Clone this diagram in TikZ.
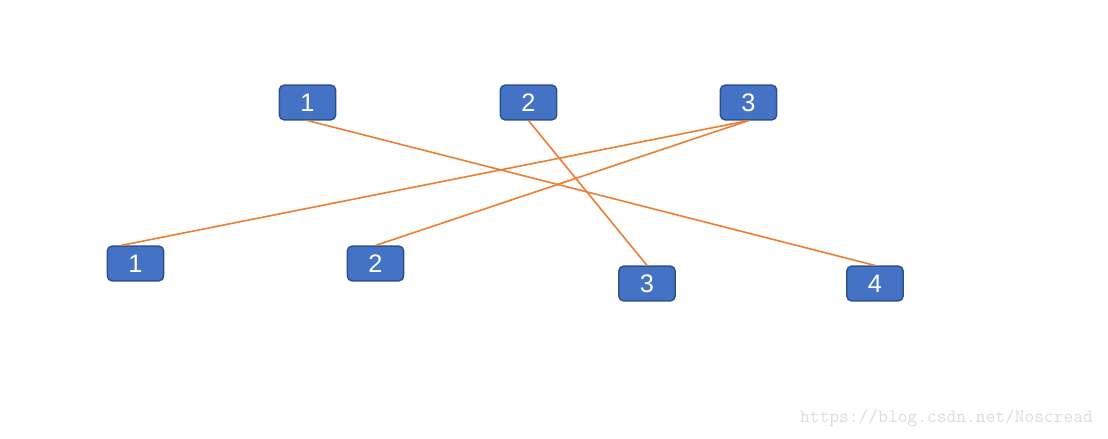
\documentclass[tikz,border=0pt]{standalone}
\usepackage{fontspec}
\setmainfont{Liberation Sans}
\definecolor{boxblue}{HTML}{4472C4}
\definecolor{boxedge}{HTML}{2F528F}
\definecolor{linkorange}{HTML}{ED7D31}
\definecolor{markgray}{HTML}{DCDCDC}
\usetikzlibrary{calc, positioning}
\tikzset{
  numbox/.style={draw=boxedge, fill=boxblue, line width=1.1pt, rounded corners=3.5pt,
    minimum width=42.2pt, minimum height=26pt, inner sep=0pt,
    text=white, font=\fontsize{19}{19}\selectfont},
  link/.style={linkorange, line width=1.2pt}
}

\begin{document}
\begin{tikzpicture}[x=0.75pt, y=-0.75pt]
  \useasboundingbox (0,0) rectangle (1108,439);

  % top row
  \node[numbox] (t1) at (307.5,102.5) {1};
  \node[numbox] (t2) at (528.5,102.5) {2};
  \node[numbox] (t3) at (748.5,102.5) {3};

  % bottom row
  \node[numbox] (b1) at (135.5,263.5) {1};
  \node[numbox] (b2) at (375.5,263.5) {2};
  \node[numbox] (b3) at (647,283.5) {3};
  \node[numbox] (b4) at (875,283.5) {4};

  % matching lines
  \coordinate (b1end) at ($(b1.north west)!0.25!(b1.north east)$);
  \draw[link] (t1.south) -- (b4.north);
  \draw[link] (t2.south) -- (b3.north);
  \draw[link] (t3.south) -- (b1end);
  \draw[link] (t3.south) -- (b2.north);

  % watermark
  \node[text=markgray, font=\ttfamily\fontsize{14.2}{14.2}\selectfont] (mark) at (946.5,418) {https://blog.csdn.net/Noscread};
\end{tikzpicture}
\end{document}
